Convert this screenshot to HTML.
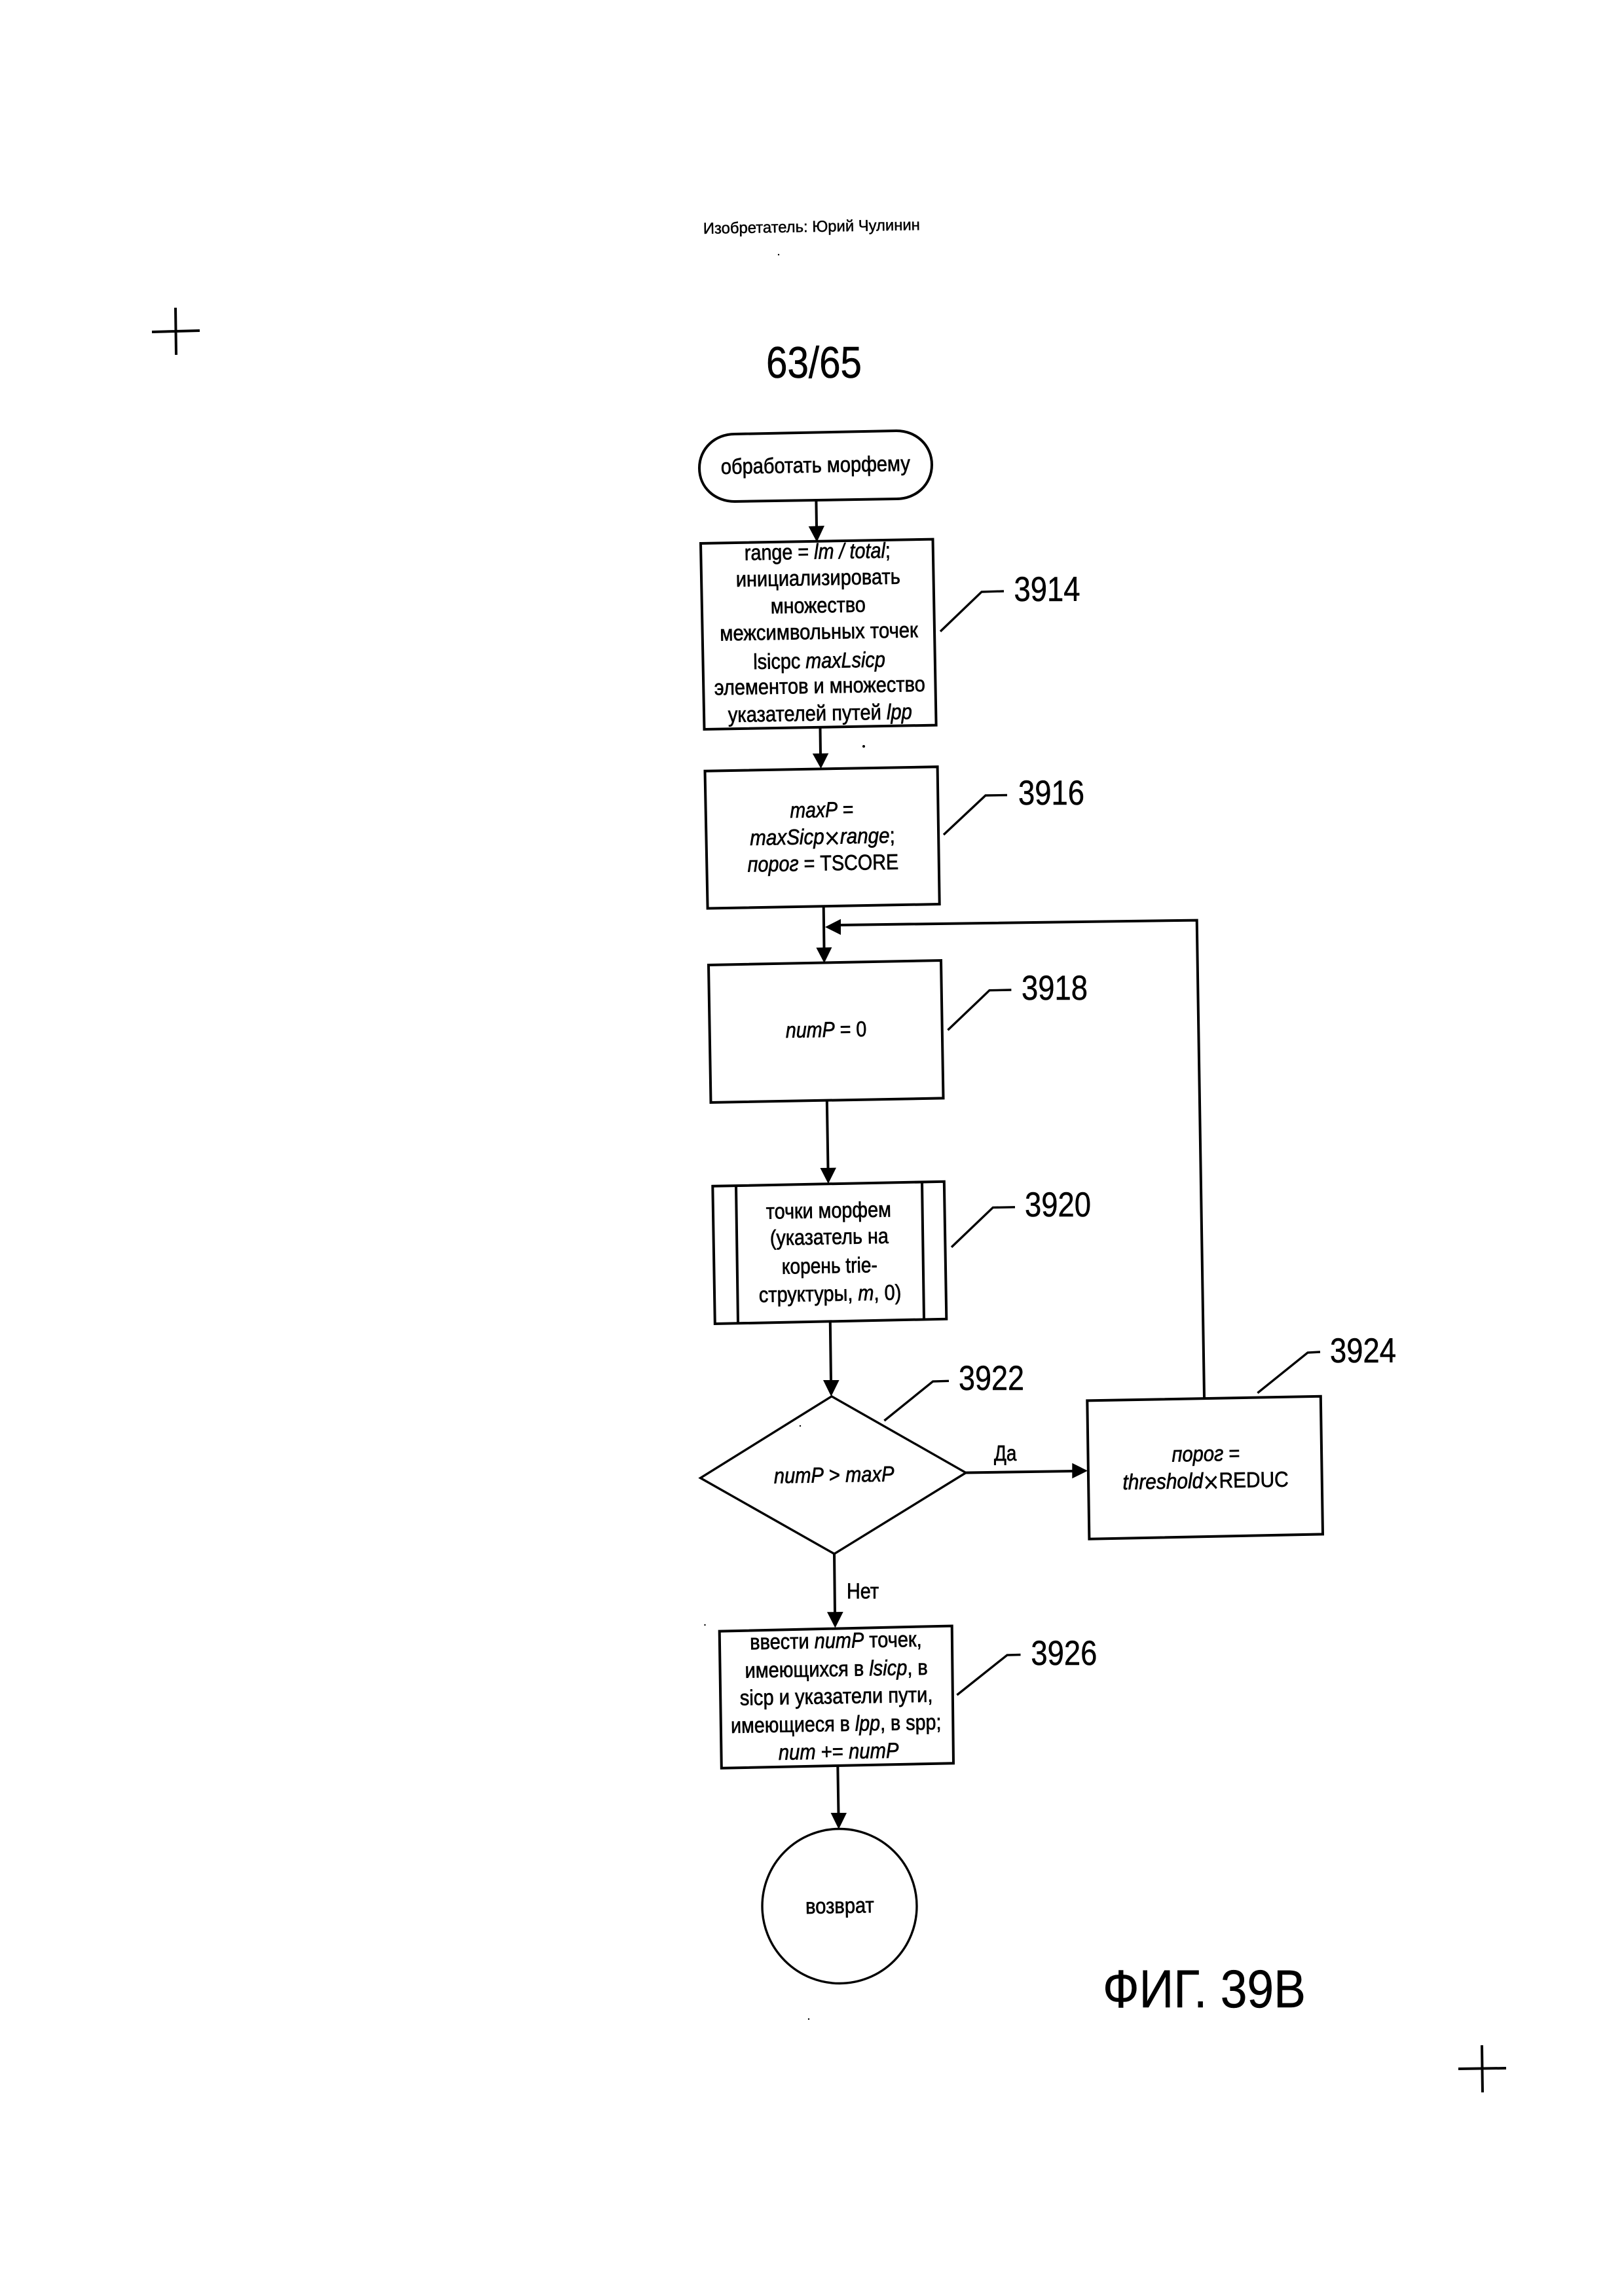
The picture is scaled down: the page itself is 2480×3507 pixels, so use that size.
<!DOCTYPE html>
<html lang="ru">
<head>
<meta charset="utf-8">
<title>63/65</title>
<style>
html,body{margin:0;padding:0;background:#fff}
svg{display:block}
text{font-family:"Liberation Sans",sans-serif;fill:#000;stroke:#000;stroke-width:.7;font-size:33px}
.i{font-style:italic}
.x{font-size:46px;stroke-width:0}
.n{font-size:53px;stroke-width:.5}
.s{fill:none;stroke:#000;stroke-width:4}
.t{fill:none;stroke:#000;stroke-width:3.4}
.h{fill:#000;stroke:none}
</style>
</head>
<body>
<svg xmlns="http://www.w3.org/2000/svg" width="2480" height="3507" viewBox="0 0 2480 3507">
<rect width="2480" height="3507" fill="#fff"/>

<!-- registration marks -->
<path class="s" d="M232 507L305 505M268 470L269 542M2227 3160L2300 3159M2263 3124L2264 3196"/>
<!-- specks -->
<g class="h"><circle cx="1189" cy="389" r="1.2"/><circle cx="1319" cy="1140" r="2"/><circle cx="1222" cy="2178" r="1.2"/><circle cx="1076.5" cy="2482" r="1.2"/><circle cx="1235" cy="3084" r="1.2"/></g>

<!-- header -->
<text x="1074" y="357" textLength="331" lengthAdjust="spacingAndGlyphs" transform="rotate(-1 1074 357)" style="font-size:24px;stroke-width:.5">Изобретатель: Юрий Чулинин</text>
<text x="1170" y="577" textLength="146" lengthAdjust="spacingAndGlyphs" style="font-size:68px;stroke-width:.6">63/65</text>

<!-- shapes -->
<path class="s" d="M1122 663L1369 658C1399 658 1423 680 1423 710C1423 740 1399 762 1369 762L1122 766C1092 766 1068 745 1068 715C1068 685 1092 663 1122 663Z"/>
<polygon class="s" points="1070,830 1424.5,823.6 1429.6,1107.6 1075.5,1114"/>
<polygon class="s" points="1076.5,1177.7 1431.6,1171.2 1434.7,1381 1080.6,1387.5"/>
<polygon class="s" points="1082,1474 1437,1467 1440.5,1677.4 1085.5,1684"/>
<polygon class="s" points="1088.3,1811.8 1441.8,1804.8 1445.3,2014.7 1091.8,2022"/>
<path class="s" d="M1124 1811L1127 2021M1408 1805L1411 2015"/>
<polygon class="t" points="1270,2132.8 1475,2249.5 1274,2373.4 1069.6,2257.5"/>
<polygon class="s" points="1660.3,2139.4 2016.8,2132.8 2020,2343.4 1663.4,2350.7"/>
<polygon class="s" points="1098.7,2491.6 1453.7,2483.5 1456,2693.3 1101.8,2700.7"/>
<ellipse class="t" cx="1282" cy="2911.5" rx="118" ry="118"/>

<!-- connectors -->
<path class="s" d="M1246.4 765L1247 806M1252.5 1112L1253 1152M1257.7 1385L1258.5 1449M1262.8 1681L1264.5 1785M1267.8 2020L1269 2110M1475 2249.5L1640 2247M1274 2373L1275 2464M1279.3 2697L1280.5 2771M1282 1413L1827.7 1405.6L1839 2135"/>
<g class="h">
<polygon points="1234.7,804 1259,803 1247.4,828"/>
<polygon points="1240.8,1151 1265.3,1150.6 1253.6,1174"/>
<polygon points="1246.4,1447.5 1270.4,1447 1258.7,1471"/>
<polygon points="1252.5,1784 1277,1783.6 1264.8,1808"/>
<polygon points="1257,2108 1281.6,2108 1269.3,2133"/>
<polygon points="1263,2462.3 1287.7,2462 1275.4,2486.5"/>
<polygon points="1268.6,2769 1293,2769 1280.8,2794"/>
<polygon points="1284,1403.7 1284,1428 1260,1416"/>
<polygon points="1637.3,2234.8 1637.3,2258.3 1661,2246.5"/>
</g>

<!-- leaders -->
<path class="t" d="M1436 964.5L1499 904L1533 903M1441 1275L1505 1215L1538 1214.5M1447.4 1573.4L1511 1512.7L1544.4 1512M1453 1905L1516.3 1844.4L1550 1843.8M1350.4 2170L1424.6 2110L1449 2109.3M1920.4 2127.7L1997 2066L2016 2065M1461.4 2589L1538 2528L1558.5 2527.5"/>

<!-- reference numerals -->
<text class="n" x="1548.5" y="918" textLength="101" lengthAdjust="spacingAndGlyphs">3914</text>
<text class="n" x="1555" y="1229" textLength="101" lengthAdjust="spacingAndGlyphs">3916</text>
<text class="n" x="1560" y="1527" textLength="101" lengthAdjust="spacingAndGlyphs">3918</text>
<text class="n" x="1565" y="1858" textLength="101" lengthAdjust="spacingAndGlyphs">3920</text>
<text class="n" x="1464" y="2123" textLength="100" lengthAdjust="spacingAndGlyphs">3922</text>
<text class="n" x="2031" y="2081" textLength="101" lengthAdjust="spacingAndGlyphs">3924</text>
<text class="n" x="1574.4" y="2543" textLength="101" lengthAdjust="spacingAndGlyphs">3926</text>

<!-- node text -->
<text x="1101" y="724" textLength="289" lengthAdjust="spacingAndGlyphs" transform="rotate(-1 1101 724)">обработать морфему</text>

<text x="1137" y="855.6" textLength="223" lengthAdjust="spacingAndGlyphs" transform="rotate(-1 1137 855.6)">range = <tspan class="i">lm / total</tspan>;</text>
<text x="1124" y="896" textLength="251" lengthAdjust="spacingAndGlyphs" transform="rotate(-1 1124 896)">инициализировать</text>
<text x="1177" y="937" textLength="145" lengthAdjust="spacingAndGlyphs" transform="rotate(-1 1177 937)">множество</text>
<text x="1099.5" y="978.6" textLength="302.5" lengthAdjust="spacingAndGlyphs" transform="rotate(-1 1099.5 978.6)">межсимвольных точек</text>
<text x="1150.5" y="1022" textLength="201.5" lengthAdjust="spacingAndGlyphs" transform="rotate(-1 1150.5 1022)">lsicpc <tspan class="i">maxLsicp</tspan></text>
<text x="1091" y="1061.5" textLength="322" lengthAdjust="spacingAndGlyphs" transform="rotate(-1 1091 1061.5)">элементов и множество</text>
<text x="1112" y="1103" textLength="281" lengthAdjust="spacingAndGlyphs" transform="rotate(-1 1112 1103)">указателей путей <tspan class="i">lpp</tspan></text>

<text x="1206.6" y="1249" textLength="97" lengthAdjust="spacingAndGlyphs" transform="rotate(-1 1206.6 1249)"><tspan class="i">maxP</tspan> =</text>
<text x="1145.4" y="1291" textLength="221.6" lengthAdjust="spacingAndGlyphs" transform="rotate(-1 1145.4 1291)"><tspan class="i">maxSicp</tspan><tspan class="x" dy="7">×</tspan><tspan class="i" dy="-7">range</tspan>;</text>
<text x="1141.8" y="1331.6" textLength="230.6" lengthAdjust="spacingAndGlyphs" transform="rotate(-1 1141.8 1331.6)"><tspan class="i">порог</tspan> = TSCORE</text>

<text x="1200" y="1585" textLength="123.5" lengthAdjust="spacingAndGlyphs" transform="rotate(-1 1200 1585)"><tspan class="i">numP</tspan> = 0</text>

<text x="1170" y="1861.7" textLength="191" lengthAdjust="spacingAndGlyphs" transform="rotate(-1 1170 1861.7)">точки морфем</text>
<text x="1176" y="1902" textLength="181" lengthAdjust="spacingAndGlyphs" transform="rotate(-1 1176 1902)">(указатель на</text>
<text x="1194" y="1945.7" textLength="146" lengthAdjust="spacingAndGlyphs" transform="rotate(-1 1194 1945.7)">корень trie-</text>
<text x="1159" y="1989" textLength="217.5" lengthAdjust="spacingAndGlyphs" transform="rotate(-1 1159 1989)">структуры, <tspan class="i">m</tspan>, 0)</text>

<text x="1182" y="2265.6" textLength="183.7" lengthAdjust="spacingAndGlyphs" transform="rotate(-1 1182 2265.6)"><tspan class="i">numP</tspan> &gt; <tspan class="i">maxP</tspan></text>
<text x="1518" y="2231" textLength="34.4" lengthAdjust="spacingAndGlyphs">Да</text>
<text x="1293" y="2441.7" textLength="49" lengthAdjust="spacingAndGlyphs">Нет</text>

<text x="1789.6" y="2232.6" textLength="104" lengthAdjust="spacingAndGlyphs" transform="rotate(-1 1789.6 2232.6)"><tspan class="i">порог</tspan> =</text>
<text x="1714.6" y="2275" textLength="253.3" lengthAdjust="spacingAndGlyphs" transform="rotate(-1 1714.6 2275)"><tspan class="i">threshold</tspan><tspan class="x" dy="7">×</tspan><tspan dy="-7">REDUC</tspan></text>

<text x="1145.4" y="2519.4" textLength="262.4" lengthAdjust="spacingAndGlyphs" transform="rotate(-1 1145.4 2519.4)">ввести <tspan class="i">numP</tspan> точек,</text>
<text x="1137.7" y="2562.7" textLength="279.3" lengthAdjust="spacingAndGlyphs" transform="rotate(-1 1137.7 2562.7)">имеющихся в <tspan class="i">lsicp</tspan>, в</text>
<text x="1130" y="2604.6" textLength="294.6" lengthAdjust="spacingAndGlyphs" transform="rotate(-1 1130 2604.6)">sicp и указатели пути,</text>
<text x="1116.3" y="2647" textLength="321.3" lengthAdjust="spacingAndGlyphs" transform="rotate(-1 1116.3 2647)">имеющиеся в <tspan class="i">lpp</tspan>, в spp;</text>
<text x="1189" y="2688" textLength="183.6" lengthAdjust="spacingAndGlyphs" transform="rotate(-1 1189 2688)"><tspan class="i">num</tspan> += <tspan class="i">numP</tspan></text>

<text x="1230.3" y="2923" textLength="104.7" lengthAdjust="spacingAndGlyphs" transform="rotate(-1 1230.3 2923)">возврат</text>

<text x="1684" y="3066" textLength="310" lengthAdjust="spacingAndGlyphs" style="font-size:82px;stroke-width:.5">ФИГ. 39В</text>
</svg>
</body>
</html>
